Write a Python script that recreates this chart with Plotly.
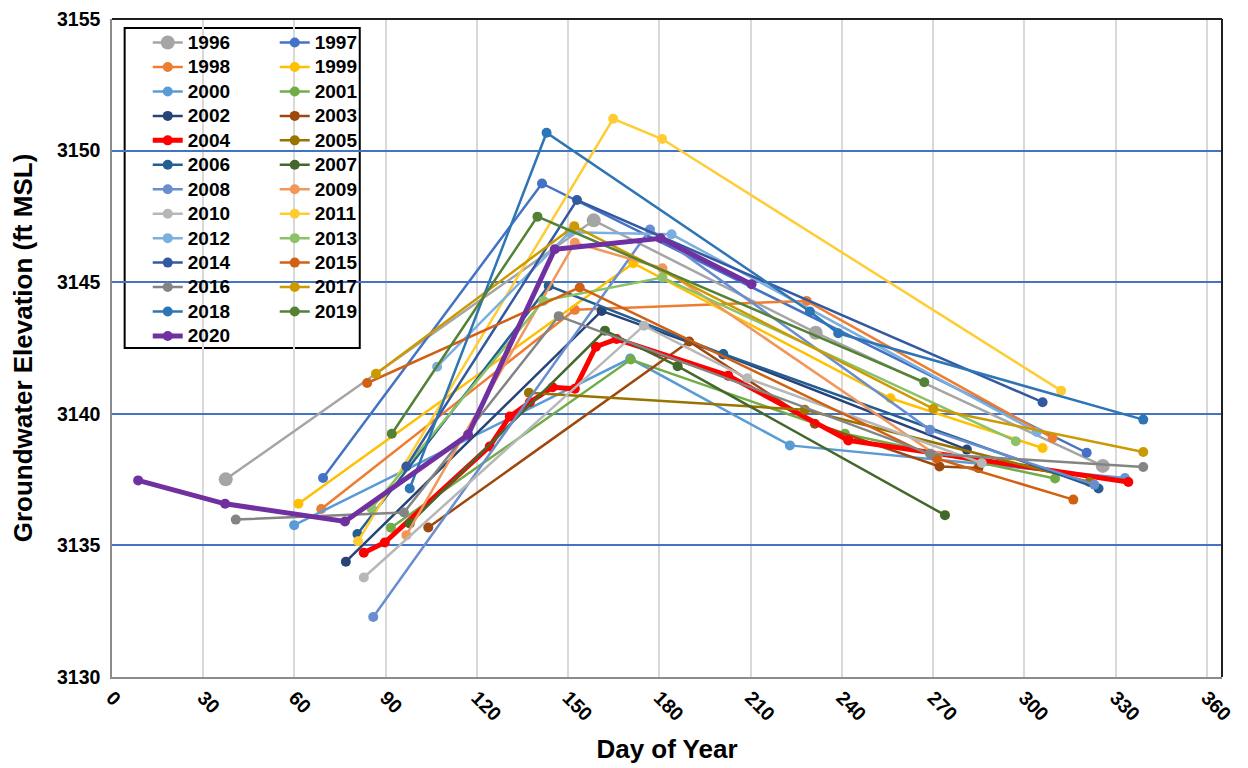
import plotly.graph_objs as go

years = [str(y) for y in range(1996, 2021)]

colors = ['#A5A5A5', '#4472C4', '#ED7D31', '#FFC000', '#5B9BD5', '#70AD47',
          '#264478', '#9E480E', '#FF0000', '#997300', '#255E91', '#43682B',
          '#698ED0', '#F1975A', '#B7B7B7', '#FFCD33', '#7CAFDD', '#8CC168',
          '#335AA1', '#D26012', '#848484', '#CC9A00', '#2E75B6', '#548235',
          '#7030A0']

# day of year / groundwater elevation (ft MSL)
days = {
    '1996': [37.4, 158.4, 231.4, 325.8],
    '1997': [69.4, 141.4, 320.5],
    '1998': [68.8, 152.2, 228.4, 309.3],
    '1999': [61.3, 171.4, 256.0, 306.0],
    '2000': [59.9, 170.4, 222.9, 333.1],
    '2001': [91.7, 170.6, 241.0, 310.1],
    '2002': [76.9, 161.0, 201.0, 281.1],
    '2003': [104.0, 189.8, 231.1, 272.1, 284.9],
    '2004': [82.8, 89.7, 124.2, 130.8, 137.4, 144.9, 152.2, 159.1, 165.9, 202.6, 242.1, 334.2],
    '2005': [137.1, 227.8, 321.4],
    '2006': [80.7, 143.6, 201.0, 324.4],
    '2007': [97.9, 162.1, 186.0, 273.9],
    '2008': [85.9, 176.9, 269.0, 323.0],
    '2009': [96.8, 152.2, 181.0, 271.5],
    '2010': [82.8, 174.9, 208.9, 286.0],
    '2011': [80.9, 164.8, 180.9, 312.1],
    '2012': [106.9, 150.5, 184.0, 304.1],
    '2013': [85.3, 141.8, 181.0, 297.2],
    '2014': [96.8, 152.9, 306.0],
    '2015': [83.9, 153.8, 271.2, 316.1],
    '2016': [40.7, 96.0, 146.9, 269.0, 339.1],
    '2017': [86.8, 152.0, 270.1, 339.1],
    '2018': [97.9, 142.9, 229.5, 238.8, 339.1],
    '2019': [92.0, 139.9, 267.1],
    '2020': [8.6, 37.2, 76.6, 117.1, 145.6, 180.4, 210.3],
}
elev = {
    '1996': [3137.51, 3147.35, 3143.08, 3138.02],
    '1997': [3137.56, 3148.75, 3138.52],
    '1998': [3136.38, 3143.95, 3144.29, 3139.08],
    '1999': [3136.58, 3145.72, 3140.59, 3138.70],
    '2000': [3135.77, 3142.10, 3138.80, 3137.56],
    '2001': [3135.67, 3142.06, 3139.24, 3137.54],
    '2002': [3134.38, 3143.91, 3142.25, 3138.64],
    '2003': [3135.68, 3142.75, 3139.62, 3138.00, 3137.94],
    '2004': [3134.72, 3135.11, 3138.76, 3139.90, 3140.44, 3141.01, 3140.95, 3142.55, 3142.84, 3141.45, 3138.99, 3137.41],
    '2005': [3140.80, 3140.15, 3137.41],
    '2006': [3135.43, 3144.86, 3142.27, 3137.16],
    '2007': [3135.83, 3143.16, 3141.81, 3136.15],
    '2008': [3132.28, 3147.00, 3139.39, 3137.31],
    '2009': [3135.39, 3146.50, 3145.53, 3138.40],
    '2010': [3133.78, 3143.35, 3141.35, 3138.13],
    '2011': [3135.16, 3151.21, 3150.44, 3140.88],
    '2012': [3141.79, 3146.90, 3146.82, 3139.31],
    '2013': [3136.40, 3144.29, 3145.18, 3138.96],
    '2014': [3138.00, 3148.12, 3140.44],
    '2015': [3141.17, 3144.80, 3138.30, 3136.74],
    '2016': [3135.98, 3136.25, 3143.71, 3138.48, 3137.98],
    '2017': [3141.52, 3147.13, 3140.19, 3138.55],
    '2018': [3137.16, 3150.68, 3143.89, 3143.06, 3139.78],
    '2019': [3139.24, 3147.49, 3141.20],
    '2020': [3137.47, 3136.58, 3135.91, 3139.20, 3146.25, 3146.67, 3144.92],
}

x_ticks = list(range(0, 361, 30))
y_ticks = list(range(3130, 3156, 5))

fig = go.Figure()
for yr, c in zip(years, colors):
    thick = yr in ('2004', '2020')
    big = yr == '1996'
    fig.add_trace(go.Scatter(
        x=days[yr], y=elev[yr],
        name='<span style="font-size:19px">' + yr + '</span>',
        mode='lines+markers',
        line=dict(color=c, width=5 if thick else 2.5),
        marker=dict(color=c, size=14 if big else 10),
        # even years in the left legend column, odd years in the right one
        legend='legend' if int(yr) % 2 == 0 else 'legend2',
    ))

legend_style = dict(
    bgcolor='rgba(0,0,0,0)', borderwidth=0,
    font=dict(family='Liberation Sans, Arial', size=16.5, color='black', weight='bold'),
    yanchor='top', xanchor='left', tracegroupgap=0, itemwidth=30,
)

# the page body adds 8px around the figure, margins are set to compensate
fig.update_layout(
    width=1248, height=768,
    margin=dict(l=104, r=34, t=11, b=99),
    paper_bgcolor='white', plot_bgcolor='white',
    font=dict(family='Liberation Sans, Arial', color='black'),
    legend=dict(x=0.0322, y=0.9904, **legend_style),
    legend2=dict(x=0.1466, y=0.9904, **legend_style),
    shapes=[
        dict(type='rect', xref='paper', yref='paper',
             x0=0.0114, x1=0.2232, y0=0.5, y1=0.9863,
             line=dict(color='black', width=2), fillcolor='white', layer='below'),
        # dark frame on top and right of the plot area
        dict(type='line', xref='paper', yref='paper', x0=0, x1=1, y0=1, y1=1,
             line=dict(color='#202020', width=2)),
        dict(type='line', xref='paper', yref='paper', x0=1, x1=1, y0=0, y1=1,
             line=dict(color='#202020', width=2)),
    ],
)

fig.update_xaxes(
    range=[0, 365], tickvals=x_ticks, tickangle=45, automargin=False,
    tickfont=dict(size=19.5, weight='bold'), ticklabeloverflow='allow',
    title=dict(text='Day of Year', font=dict(size=26, weight='bold'), standoff=16),
    showgrid=True, gridcolor='#D9D9D9', gridwidth=1.5,
    showline=True, linecolor='#8C8C8C', linewidth=1.5,
    zeroline=False, ticks='',
)
fig.update_yaxes(
    range=[3130, 3155], tickvals=y_ticks, automargin=False,
    tickfont=dict(size=19.5, weight='bold'), ticklabelstandoff=6,
    ticklabeloverflow='allow',
    title=dict(text='Groundwater Elevation (ft MSL)', font=dict(size=26, weight='bold'), standoff=19),
    showgrid=True, gridcolor='#4472C4', gridwidth=1.5,
    showline=True, linecolor='#8C8C8C', linewidth=1.5,
    zeroline=False, ticks='',
)

fig.write_html("out.html")
